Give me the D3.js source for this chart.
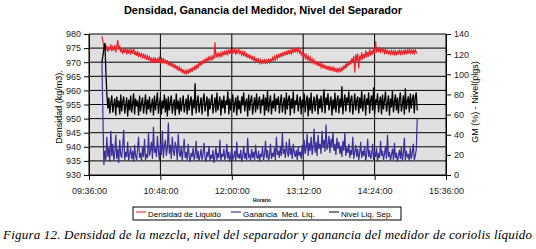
<!DOCTYPE html>
<html>
<head>
<meta charset="utf-8">
<script src="https://cdn.jsdelivr.net/npm/d3@7"></script>
<style>
  body { margin: 0; background: #fff; }
  svg text { font-family: 'Liberation Sans', Arial, sans-serif; }
</style>
</head>
<body>
<svg id="chart" width="536" height="249"></svg>
<script>
// sample clock: first reading 09:49, one reading every minute
const startMinute = 9 * 60 + 49;
const stepMinutes = 1;

const xTicks = ['09:36:00', '10:48:00', '12:00:00', '13:12:00', '14:24:00', '15:36:00'];
const leftTicks = [930, 935, 940, 945, 950, 955, 960, 965, 970, 975, 980];
const rightTicks = [0, 20, 40, 60, 80, 100, 120, 140];

const seriesNames = ['Densidad de Liquido', 'Ganancia  Med. Liq.', 'Nivel Liq. Sep.'];

// Densidad (kg/m3), left axis
const density = [
  979.2, 977.4, 975.6, 976.8, 974.1, 975.9, 973.7, 975.2, 974.6, 976.3,
  973.9, 975.4, 974.2, 976.1, 973.5, 975.7, 977.8, 974.4, 975.9, 973.6,
  974.8, 972.9, 974.6, 973.4, 975.1, 972.8, 974.3, 973.1, 974.9, 972.7,
  974.2, 973.0, 975.0, 972.6, 973.8, 972.2, 973.9, 971.8, 973.4, 972.1,
  972.9, 971.3, 973.0, 971.6, 972.4, 970.8, 972.2, 971.0, 971.9, 970.4,
  971.6, 969.9, 971.3, 970.2, 971.7, 969.8, 971.1, 970.4, 972.0, 969.7,
  971.2, 970.0, 971.5, 969.6, 970.9, 969.3, 970.7, 968.9, 970.4, 968.6,
  969.8, 968.3, 969.6, 967.9, 969.1, 967.5, 968.8, 966.9, 968.2, 967.0,
  967.8, 966.2, 967.5, 965.8, 967.1, 966.0, 967.4, 965.9, 967.6, 966.3,
  968.0, 966.6, 968.3, 967.1, 968.9, 967.4, 969.2, 967.9, 969.8, 968.6,
  970.4, 969.1, 970.8, 969.5, 971.2, 970.0, 971.6, 970.3, 972.1, 970.8,
  971.9, 970.6, 972.4, 971.1, 977.1, 971.5, 973.0, 971.8, 973.4, 972.0,
  973.3, 971.9, 973.8, 972.4, 974.1, 972.6, 973.9, 972.8, 974.5, 973.0,
  974.3, 972.9, 974.6, 973.1, 974.8, 972.7, 974.2, 973.3, 975.0, 972.8,
  974.1, 972.6, 973.7, 972.2, 973.9, 971.9, 973.2, 971.5, 972.8, 971.3,
  972.6, 970.9, 972.1, 970.5, 971.7, 970.2, 971.4, 969.8, 971.0, 969.6,
  970.8, 969.3, 970.9, 969.5, 971.2, 969.4, 970.7, 969.8, 971.3, 969.9,
  971.0, 970.2, 971.6, 970.4, 972.0, 970.9, 972.4, 971.3, 972.9, 971.6,
  973.1, 971.8, 973.5, 972.2, 973.7, 972.4, 974.0, 972.6, 974.3, 972.8,
  974.1, 973.0, 974.6, 973.2, 974.9, 973.5, 975.1, 973.7, 974.8, 973.4,
  974.3, 972.6, 973.6, 972.0, 973.2, 971.5, 972.6, 971.0, 972.1, 970.6,
  971.7, 970.1, 971.2, 969.7, 970.8, 969.2, 970.4, 968.8, 970.1, 968.5,
  969.7, 968.2, 969.4, 967.9, 969.2, 967.6, 968.9, 967.3, 968.7, 967.1,
  968.6, 966.9, 968.4, 967.0, 968.1, 966.6, 967.9, 966.4, 968.0, 966.7,
  967.8, 966.5, 968.3, 967.0, 968.9, 967.6, 969.5, 968.1, 970.2, 968.8,
  970.6, 969.2, 971.4, 969.9, 972.3, 966.3, 972.8, 970.4, 973.1, 967.8,
  972.4, 970.6, 973.5, 971.0, 972.9, 971.4, 974.2, 971.7, 973.6, 972.0,
  974.6, 972.3, 974.1, 972.7, 975.0, 972.9, 977.3, 973.4, 975.3, 973.6,
  975.4, 973.2, 974.9, 973.5, 975.2, 972.8, 974.6, 973.0, 974.4, 972.7,
  974.2, 972.9, 974.0, 972.5, 974.3, 972.8, 973.9, 972.4, 974.1, 972.7,
  974.4, 972.9, 974.0, 972.6, 974.3, 973.1, 974.5, 972.8, 974.2, 973.0,
  974.6, 973.2, 974.3, 972.9, 974.5, 973.1, 974.4, 973.3, 973.6
];

// Nivel Liq. Sep. (plgs), right axis
const level = [
  112, 118, 126, 131, 104, 80, 66, 77, 61, 72,
  79, 62, 70, 76, 59, 78, 67, 74, 60, 80,
  63, 73, 78, 61, 69, 77, 58, 75, 64, 79,
  62, 71, 81, 60, 76, 68, 74, 59, 79, 63,
  72, 77, 61, 70, 80, 60, 75, 65, 78, 62,
  69, 76, 59, 79, 64, 73, 82, 61, 71, 77,
  60, 74, 66, 80, 62, 76, 58, 78, 64, 72,
  79, 61, 70, 75, 59, 81, 65, 74, 60, 77,
  63, 72, 79, 62, 69, 76, 60, 80, 64, 73,
  78, 59, 75, 66, 91, 61, 72, 79, 62, 70,
  77, 60, 74, 81, 63, 71, 78, 58, 76, 65,
  73, 80, 61, 69, 77, 62, 82, 64, 72, 78,
  59, 75, 66, 79, 61, 74, 70, 83, 60, 76,
  64, 73, 80, 62, 71, 77, 59, 79, 65, 74,
  61, 78, 69, 82, 63, 72, 76, 58, 80, 64,
  74, 79, 60, 70, 77, 62, 81, 65, 73, 78,
  61, 75, 69, 80, 59, 77, 64, 84, 62, 72,
  79, 60, 74, 66, 81, 63, 76, 70, 78, 61,
  73, 80, 62, 71, 77, 60, 82, 65, 75, 79,
  59, 76, 66, 83, 61, 74, 70, 80, 63, 72,
  78, 60, 75, 67, 81, 62, 73, 79, 58, 77,
  64, 82, 61, 71, 78, 63, 74, 80, 60, 76,
  66, 79, 62, 73, 85, 61, 77, 70, 81, 64,
  72, 78, 59, 75, 65, 82, 62, 74, 79, 61,
  76, 67, 88, 60, 73, 80, 63, 77, 71, 83,
  62, 75, 79, 60, 70, 81, 64, 74, 78, 61,
  77, 66, 84, 63, 72, 80, 59, 76, 70, 82,
  61, 74, 79, 64, 87, 60, 75, 71, 81, 62,
  73, 78, 60, 80, 65, 74, 83, 63, 71, 79,
  59, 76, 67, 84, 62, 72, 80, 64, 77, 61,
  75, 82, 63, 70, 79, 60, 86, 65, 73, 78,
  62, 81, 66, 75, 80, 61, 77, 82, 64
];

// Ganancia Med. Liq. (%), right axis
const gain = [
  112, 60, 10, 24, 15, 38, 18, 27, 13, 44,
  19, 31, 14, 22, 40, 16, 26, 12, 35, 20,
  17, 29, 45, 15, 23, 18, 33, 14, 21, 27,
  16, 24, 13, 30, 19, 15, 26, 38, 17, 22,
  14, 28, 18, 36, 15, 21, 17, 42, 19, 25,
  33, 16, 48, 22, 27, 18, 39, 24, 15, 31,
  20, 44, 17, 29, 35, 19, 26, 52, 21, 30,
  16, 38, 24, 19, 33, 27, 15, 41, 22, 18,
  29, 14, 25, 36, 17, 23, 15, 31, 19, 13,
  22, 18, 27, 15, 20, 34, 16, 24, 14, 19,
  26, 15, 21, 32, 17, 13, 23, 18, 29, 14,
  20, 16, 25, 12, 19, 28, 15, 22, 17, 35,
  14, 21, 18, 26, 15, 19, 31, 16, 23, 13,
  20, 27, 15, 18, 24, 14, 33, 17, 21, 16,
  25, 13, 19, 29, 16, 22, 15, 37, 18, 20,
  14, 26, 17, 23, 15, 30, 19, 16, 24, 13,
  21, 18, 28, 15, 20, 34, 17, 25, 14, 19,
  31, 16, 22, 18, 27, 15, 38, 20, 24, 17,
  29, 19, 42, 21, 26, 17, 33, 23, 18, 36,
  20, 27, 16, 31, 22, 18, 25, 15, 28, 19,
  23, 16, 30, 18, 35, 21, 27, 41, 19, 32,
  24, 38, 20, 29, 46, 22, 33, 19, 40, 26,
  31, 21, 44, 27, 35, 23, 50, 25, 30, 39,
  22, 36, 28, 43, 24, 31, 20, 37, 26, 33,
  21, 29, 18, 34, 24, 42, 19, 27, 22, 31,
  17, 25, 20, 38, 16, 23, 30, 18, 26, 15,
  22, 33, 17, 24, 19, 29, 14, 21, 36, 18,
  25, 16, 20, 31, 15, 23, 18, 27, 13, 22,
  17, 34, 19, 24, 15, 21, 29, 16, 40, 18,
  23, 14, 20, 26, 15, 32, 17, 22, 13, 19,
  25, 16, 28, 14, 21, 37, 15, 24, 18, 20,
  14, 27, 16, 22, 31, 15, 19, 25, 56
];

const toMin = s => { const p = s.split(':'); return +p[0] * 60 + +p[1]; };
const timeAt = i => startMinute + i * stepMinutes;

const margin = {top: 34, left: 89, right: 90, bottom: 74};
const width = 536 - margin.left - margin.right;
const height = 249 - margin.top - margin.bottom;

const root = d3.select('#chart');

root.append('text')
.attr('x', 263)
.attr('y', 14)
.attr('text-anchor', 'middle')
.style('font-size', '11px')
.style('font-weight', 'bold')
.text('Densidad, Ganancia del Medidor, Nivel del Separador');

const svg = root.append('g')
.attr('transform', `translate(${margin.left}, ${margin.top})`);

const x = d3.scaleLinear()
.domain([toMin(xTicks[0]), toMin(xTicks[xTicks.length - 1])])
.range([0, width]);

const yL = d3.scaleLinear().domain([930, 980]).range([height, 0]);
const yR = d3.scaleLinear().domain([0, 140]).range([height, 0]);

svg.append('rect')
.attr('width', width)
.attr('height', height)
.attr('fill', '#e0e0e0');

// gridlines
svg.selectAll('.hgrid')
.data(leftTicks)
.enter()
.append('line')
.attr('x1', 0).attr('x2', width)
.attr('y1', d => yL(d)).attr('y2', d => yL(d))
.attr('stroke', '#000').attr('stroke-width', 1);

svg.selectAll('.vgrid')
.data(xTicks)
.enter()
.append('line')
.attr('x1', d => x(toMin(d))).attr('x2', d => x(toMin(d)))
.attr('y1', 0).attr('y2', height)
.attr('stroke', '#000').attr('stroke-width', 1);

const lineL = d3.line().x((d, i) => x(timeAt(i))).y(d => yL(d));
const lineR = d3.line().x((d, i) => x(timeAt(i))).y(d => yR(d));

svg.append('path').datum(density)
.attr('d', lineL).attr('fill', 'none')
.attr('stroke', '#e8232b').attr('stroke-width', 1.2);

svg.append('path').datum(level)
.attr('d', lineR).attr('fill', 'none')
.attr('stroke', '#000').attr('stroke-width', 1.3);

svg.append('path').datum(gain)
.attr('d', lineR).attr('fill', 'none')
.attr('stroke', '#3b2f9c').attr('stroke-width', 1.2);

// axes
const axL = svg.append('g')
.call(d3.axisLeft(yL).tickValues(leftTicks).tickSize(5).tickPadding(3));

const axR = svg.append('g')
.attr('transform', `translate(${width}, 0)`)
.call(d3.axisRight(yR).tickValues(rightTicks).tickSize(5).tickPadding(3));

const axB = svg.append('g')
.attr('transform', `translate(0, ${height})`)
.call(d3.axisBottom(x).tickValues(xTicks.map(toMin)).tickSize(5).tickPadding(8)
  .tickFormat((d, i) => xTicks[i]));

[axL, axR, axB].forEach(a => {
  a.select('.domain').attr('stroke', '#000');
  a.selectAll('line').attr('stroke', '#000');
  a.selectAll('text')
  .style('font-family', "'Liberation Sans', Arial, sans-serif")
  .style('font-size', '9px')
  .attr('fill', '#222');
});

svg.append('text')
.attr('transform', 'rotate(-90)')
.attr('x', -73)
.attr('y', -27)
.attr('text-anchor', 'middle')
.style('font-size', '9px')
.text('Densidad (kg/m3).');

svg.append('text')
.attr('transform', 'rotate(-90)')
.attr('x', -68)
.attr('y', width + 32)
.attr('text-anchor', 'middle')
.style('font-size', '9px')
.text('GM (%) - Nivel(plgs)');

svg.append('text')
.attr('x', 173)
.attr('y', height + 27)
.attr('text-anchor', 'middle')
.style('font-size', '5px')
.style('font-weight', 'bold')
.text('Horario');

// legend
const legend = root.append('g').attr('transform', 'translate(133, 207)');
legend.append('rect')
.attr('width', 268).attr('height', 13)
.attr('fill', '#fff').attr('stroke', '#000').attr('stroke-width', 1);

const legendColors = ['#e8232b', '#1f1a5c', '#000'];
const legendX = [3, 98, 196];
seriesNames.forEach((name, i) => {
  legend.append('line')
  .attr('x1', legendX[i]).attr('x2', legendX[i] + 10)
  .attr('y1', 5).attr('y2', 5)
  .attr('stroke', legendColors[i]).attr('stroke-width', 1);
  legend.append('text')
  .attr('x', legendX[i] + 12)
  .attr('y', 10)
  .style('font-size', '8px')
  .attr('xml:space', 'preserve')
  .text(name);
});

root.append('text')
.attr('x', 3)
.attr('y', 239)
.attr('textLength', 529)
.attr('lengthAdjust', 'spacing')
.style('font-family', "'Liberation Serif', 'Times New Roman', serif")
.style('font-style', 'italic')
.style('font-size', '13px')
.text('Figura 12. Densidad de la mezcla, nivel del separador y ganancia del medidor de coriolis líquido');
</script>
</body>
</html>
